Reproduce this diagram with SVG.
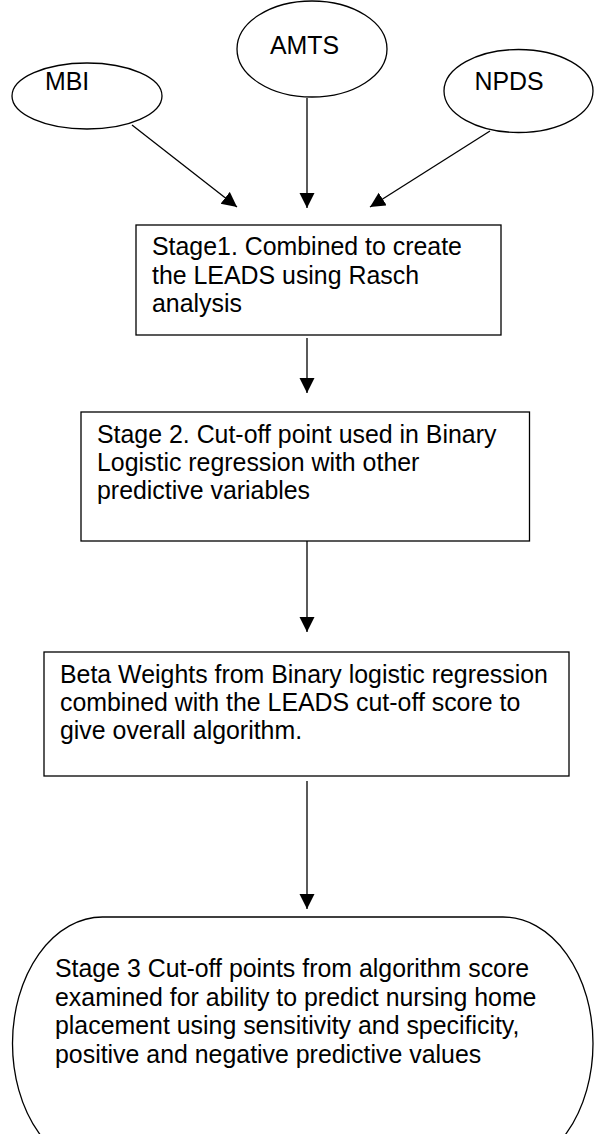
<svg xmlns="http://www.w3.org/2000/svg" width="594" height="1134" viewBox="0 0 594 1134">
  <style>
    .shape { fill: #ffffff; stroke: #000000; stroke-width: 1.3; }
    .label { font-family: "Liberation Sans", Arial, sans-serif; font-size: 24.9px; fill: #000000; }
    .link { stroke: #000000; stroke-width: 1.3; fill: none; marker-end: url(#arrow); }
  </style>
  <defs>
    <marker id="arrow" markerUnits="userSpaceOnUse" markerWidth="16" markerHeight="16" viewBox="0 0 16 16" refX="15" refY="7.5" orient="auto">
      <path d="M0,0 L15,7.5 L0,15 z" fill="#000000"/>
    </marker>
  </defs>
  <rect width="594" height="1134" fill="#ffffff"/>

  <!-- source scales -->
  <g id="mbi">
    <ellipse class="shape" cx="87" cy="96" rx="75" ry="33"/>
    <text class="label" x="45" y="89.5">MBI</text>
  </g>
  <g id="amts">
    <ellipse class="shape" cx="312" cy="49" rx="75" ry="48"/>
    <text class="label" x="270" y="53.5">AMTS</text>
  </g>
  <g id="npds">
    <ellipse class="shape" cx="518.5" cy="91" rx="74.5" ry="41.5"/>
    <text class="label" x="474.5" y="89.5">NPDS</text>
  </g>

  <!-- stage 1 -->
  <g id="stage1">
    <rect class="shape" x="136" y="225" width="365" height="110"/>
    <text class="label" x="152" y="255">Stage1. Combined to create</text>
    <text class="label" x="152" y="283.5">the LEADS using Rasch</text>
    <text class="label" x="152" y="312">analysis</text>
  </g>

  <!-- stage 2 -->
  <g id="stage2">
    <rect class="shape" x="81" y="412" width="448.5" height="129"/>
    <text class="label" x="97" y="443">Stage 2. Cut-off point used in Binary</text>
    <text class="label" x="97" y="471">Logistic regression with other</text>
    <text class="label" x="97" y="499">predictive variables</text>
  </g>

  <!-- beta weights -->
  <g id="beta">
    <rect class="shape" x="44" y="652" width="525" height="124"/>
    <text class="label" x="60" y="683">Beta Weights from Binary logistic regression</text>
    <text class="label" x="60" y="711">combined with the LEADS cut-off score to</text>
    <text class="label" x="60" y="739">give overall algorithm.</text>
  </g>

  <!-- stage 3 (bottom runs past the page edge) -->
  <g id="stage3">
    <path class="shape" d="M102.5,917 L503,917 A90,126.5 0 0 1 593,1043.5 A90,126.5 0 0 1 503,1170 L102.5,1170 A90,126.5 0 0 1 12.5,1043.5 A90,126.5 0 0 1 102.5,917 z"/>
    <text class="label" x="55" y="977">Stage 3 Cut-off points from algorithm score</text>
    <text class="label" x="55" y="1005.5">examined for ability to predict nursing home</text>
    <text class="label" x="55" y="1034">placement using sensitivity and specificity,</text>
    <text class="label" x="55" y="1062.5">positive and negative predictive values</text>
  </g>

  <g id="connectors">
    <line class="link" x1="132" y1="125" x2="237" y2="207"/>
    <line class="link" x1="307" y1="98" x2="307" y2="208"/>
    <line class="link" x1="490" y1="131" x2="370" y2="207"/>
    <line class="link" x1="307" y1="338" x2="307" y2="393"/>
    <line class="link" x1="307" y1="541" x2="307" y2="632"/>
    <line class="link" x1="307" y1="781" x2="307" y2="909"/>
  </g>
</svg>
